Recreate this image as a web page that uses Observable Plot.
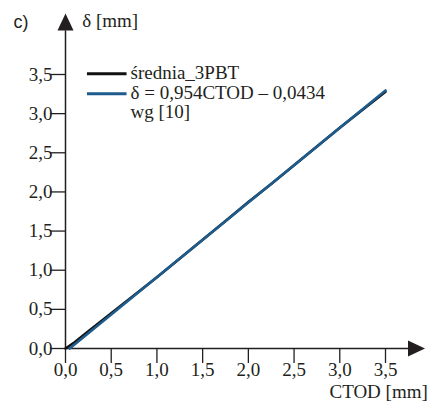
<!DOCTYPE html>
<html>
<head>
<meta charset="utf-8">
<script src="https://cdn.jsdelivr.net/npm/d3@7"></script>
<script src="https://cdn.jsdelivr.net/npm/@observablehq/plot@0.6"></script>
<style>
  html, body { margin: 0; padding: 0; background: #fff; }
  #chart { width: 431px; height: 404px; overflow: hidden; }
  #chart svg { font-family: "Liberation Serif", "Times New Roman", serif !important; }
</style>
</head>
<body>
<div id="chart"></div>
<script>
// ---- data ----
const xTicks = [0, 0.5, 1.0, 1.5, 2.0, 2.5, 3.0, 3.5];
const yTicks = [0, 0.5, 1.0, 1.5, 2.0, 2.5, 3.0, 3.5];

// measured average curve (średnia_3PBT)
const avgCtod  = [0, 0.1, 0.25, 0.5, 0.75, 1.0, 1.25, 1.5, 1.75, 2.0, 2.25, 2.5, 2.75, 3.0, 3.25, 3.5];
const avgDelta = [0, 0.08, 0.22, 0.45, 0.68, 0.91, 1.15, 1.39, 1.63, 1.87, 2.10, 2.34, 2.58, 2.82, 3.05, 3.28];

// regression line δ = 0,954CTOD – 0,0434 (wg [10])
const fitCtod  = [0.045, 3.5];
const fitDelta = [0.0, 3.296];

const legendLabels = ["średnia_3PBT", "δ = 0,954CTOD – 0,0434", "wg [10]"];
const panelLabel = "c)";
const yTitle = "δ [mm]";
const xTitle = "CTOD [mm]";

// axis extents (arrows) in data units
const xAxisEnd = 3.8, yAxisEnd = 4.06;
const xArrow = 3.839, yArrow = 4.17;

// ---- build ----
const avg = avgCtod.map((c, i) => ({ctod: c, delta: avgDelta[i]}));
const fit = fitCtod.map((c, i) => ({ctod: c, delta: fitDelta[i]}));
const fmt = d => d.toFixed(1).replace(".", ",");
const ink = "#231f20";
const blue = "#1d5c8c";

// arrowhead symbol (isosceles triangle pointing up)
const arrowHead = {
  draw(context) {
    context.moveTo(0, -8.5);
    context.lineTo(8, 8.5);
    context.lineTo(-8, 8.5);
    context.closePath();
  }
};

const chart = Plot.plot({
  width: 431,
  height: 404,
  marginLeft: 65,
  marginRight: 46,
  marginTop: 74,
  marginBottom: 56,
  x: {domain: [0, 3.5]},
  y: {domain: [0, 3.5]},
  style: {fontSize: "19px", color: ink, background: "white", overflow: "visible"},
  marks: [
    Plot.ruleY([0], {x1: 0, x2: xAxisEnd, stroke: ink, strokeWidth: 1.5}),
    Plot.ruleX([0], {y1: 0, y2: yAxisEnd, stroke: ink, strokeWidth: 1.5}),
    Plot.dot([{x: xArrow, y: 0}], {x: "x", y: "y", symbol: arrowHead, fill: ink, stroke: "none", rotate: 90}),
    Plot.dot([{x: 0, y: yArrow}], {x: "x", y: "y", symbol: arrowHead, fill: ink, stroke: "none"}),
    Plot.axisX({ticks: xTicks, tickFormat: fmt, tickSize: 15, tickOffset: -7, tickPadding: -1, label: null, stroke: ink, strokeWidth: 1.3, fontSize: 19}),
    Plot.axisY({ticks: yTicks, tickFormat: fmt, tickSize: 15, tickOffset: -8, tickPadding: -2, label: null, stroke: ink, strokeWidth: 1.3, fontSize: 19}),
    Plot.line(avg, {x: "ctod", y: "delta", stroke: "#111", strokeWidth: 2.6}),
    Plot.line(fit, {x: "ctod", y: "delta", stroke: blue, strokeWidth: 2.6}),
    // legend
    Plot.ruleY([3.509], {x1: 0.24, x2: 0.673, stroke: "#111", strokeWidth: 3}),
    Plot.ruleY([3.253], {x1: 0.24, x2: 0.673, stroke: blue, strokeWidth: 3}),
    Plot.text([legendLabels[0]], {x: 0.711, y: 3.523, text: d => d, textAnchor: "start", fill: ink, fontSize: 19}),
    Plot.text([legendLabels[1]], {x: 0.711, y: 3.267, text: d => d, textAnchor: "start", fill: ink, fontSize: 19}),
    Plot.text([legendLabels[2]], {x: 0.711, y: 3.02, text: d => d, textAnchor: "start", fill: ink, fontSize: 19}),
    // titles
    Plot.text([panelLabel], {x: -0.569, y: 4.17, text: d => d, textAnchor: "start", fill: ink, fontSize: 18, fontFamily: "Liberation Sans"}),
    Plot.text([yTitle], {x: 0.183, y: 4.18, text: d => d, textAnchor: "start", fill: ink, fontSize: 19}),
    Plot.text([xTitle], {x: 2.887, y: -0.56, text: d => d, textAnchor: "start", fill: ink, fontSize: 19})
  ]
});
document.getElementById("chart").appendChild(chart);
</script>
</body>
</html>
